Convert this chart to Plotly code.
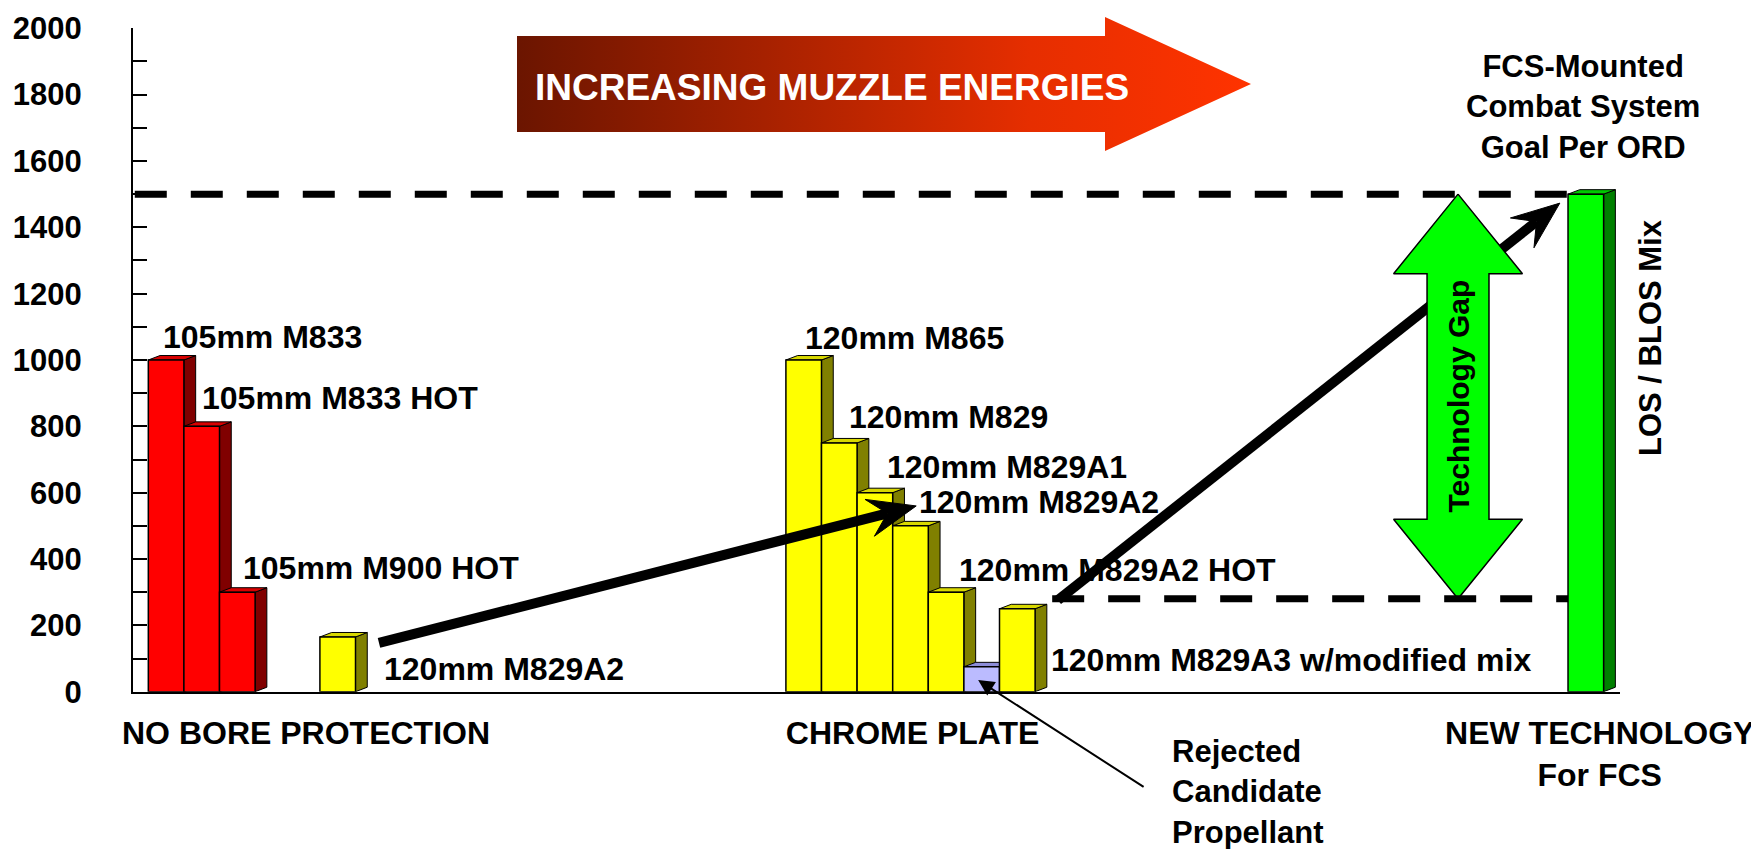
import math
import plotly.graph_objects as go

# ---------------- data ----------------
bar_names = ["105mm M833", "105mm M833 HOT", "105mm M900 HOT", "120mm M829A2",
             "120mm M865", "120mm M829", "120mm M829A1", "120mm M829A2",
             "120mm M829A2 HOT", "Rejected Candidate Propellant",
             "120mm M829A3 w/modified mix", "FCS-Mounted Combat System"]
bar_values = [1000, 800, 300, 165, 1000, 750, 600, 500, 300, 75, 250, 1500]
bar_kinds = ["105", "105", "105", "120", "120", "120", "120", "120", "120",
             "rejected", "120", "new"]

category_labels = ["NO BORE PROTECTION", "CHROME PLATE", "NEW TECHNOLOGY<br>For FCS"]
y_tick_values = [0, 200, 400, 600, 800, 1000, 1200, 1400, 1600, 1800, 2000]
y_tick_labels = [str(v) for v in y_tick_values]

goal_value = 1500          # FCS goal per ORD
current_best_line = 280    # lower dashed line (top of current technology)

bar_label_texts = ["105mm M833", "105mm M833 HOT", "105mm M900 HOT", "120mm M829A2",
                   "120mm M865", "120mm M829", "120mm M829A1", "120mm M829A2",
                   "120mm M829A2 HOT", "120mm M829A3 w/modified mix"]

# ---------------- layout / style constants ----------------
W, H = 1759, 849
OFF = 8                       # page body margin
FW, FH = W - OFF, H - OFF
FONT = "Liberation Sans, Arial, Helvetica, sans-serif"
BAR_X = [0.93, 1.93, 2.93, 5.75, 18.84, 19.84, 20.84, 21.84, 22.84, 23.84, 24.84, 40.81]
BAR_W = 1.0
DX, DY = 0.33, 13.5            # 3-D depth offset (x units, value units)
X_RANGE = [0, 41.77]
Y_RANGE = [0, 2000]
PLOT_L, PLOT_R, PLOT_T, PLOT_B = 133, 1620, 28.3, 691.7   # screen px
PXX = (PLOT_R - PLOT_L) / (X_RANGE[1] - X_RANGE[0])
PXY = (PLOT_B - PLOT_T) / (Y_RANGE[1] - Y_RANGE[0])
CATEGORY_X = [4.86, 21.9, 41.2]
LABEL_DX = -0.13
LABEL_POS = [(0.93, 1070), (2.02, 885), (3.17, 373), (7.13, 68),
             (18.96, 1066), (20.2, 828), (21.26, 677), (22.16, 572),
             (23.29, 367), (25.87, 95)]

COLORS = {
    "105": ("#FF0000", "#800000", "#D80000"),
    "120": ("#FFFF00", "#808000", "#D8D800"),
    "rejected": ("#BBBBFF", "#6666AA", "#8C8CD8"),
    "new": ("#00FF00", "#008000", "#00C800"),
}

fig = go.Figure()

# front faces of the bars
fig.add_trace(go.Bar(
    x=BAR_X, y=bar_values, width=BAR_W,
    marker=dict(color=[COLORS[k][0] for k in bar_kinds],
                line=dict(color="black", width=1.5)),
    hoverinfo="skip", showlegend=False,
))

# 3-D side and top faces (as shapes beneath the bar fronts)
shapes = []
sides, tops = [], []
for xc, v, k in zip(BAR_X, bar_values, bar_kinds):
    l, r = xc - BAR_W / 2, xc + BAR_W / 2
    sides.append(dict(type="path", xref="x", yref="y", layer="below",
                      path=f"M{r},0 L{r + DX},{DY} L{r + DX},{v + DY} L{r},{v} Z",
                      fillcolor=COLORS[k][1], line=dict(color="black", width=1)))
    tops.append(dict(type="path", xref="x", yref="y", layer="below",
                     path=f"M{l},{v} L{r},{v} L{r + DX},{v + DY} L{l + DX},{v + DY} Z",
                     fillcolor=COLORS[k][2], line=dict(color="black", width=1)))
shapes += sides + tops

# dashed goal / current lines
green_left = BAR_X[-1] - BAR_W / 2
last_chrome_right = BAR_X[10] + BAR_W / 2 + DX
shapes.append(dict(type="line", xref="x", yref="y", x0=0.05, x1=green_left + 0.3,
                   y0=goal_value, y1=goal_value, line=dict(color="black", width=7, dash="32px,24px")))
shapes.append(dict(type="line", xref="x", yref="y", x0=last_chrome_right + 0.15, x1=green_left,
                   y0=current_best_line, y1=current_best_line,
                   line=dict(color="black", width=7, dash="32px,24px")))


def thick_arrow(tail, tip, L=48, hw=19, notch=0.62, width=10):
    """Barbed arrow drawn as data-space traces (head geometry in screen px)."""
    tx, ty = tail[0] * PXX, tail[1] * PXY
    hx, hy = tip[0] * PXX, tip[1] * PXY
    d = math.hypot(hx - tx, hy - ty)
    ux, uy = (hx - tx) / d, (hy - ty) / d
    nx, ny = -uy, ux
    bx, by = hx - L * ux, hy - L * uy
    cx, cy = hx - notch * L * ux, hy - notch * L * uy
    pts = [(hx, hy), (bx + hw * nx, by + hw * ny), (cx, cy), (bx - hw * nx, by - hw * ny), (hx, hy)]
    fig.add_trace(go.Scatter(x=[tail[0], cx / PXX], y=[tail[1], cy / PXY], mode="lines",
                             line=dict(color="black", width=width),
                             hoverinfo="skip", showlegend=False))
    fig.add_trace(go.Scatter(x=[p[0] / PXX for p in pts], y=[p[1] / PXY for p in pts],
                             mode="lines", fill="toself", fillcolor="black",
                             line=dict(color="black", width=1),
                             hoverinfo="skip", showlegend=False))


# thick trend arrows (second one passes behind the technology-gap arrow)
thick_arrow((6.91, 147), (22.0, 560))
thick_arrow((25.98, 276), (40.08, 1473))

# Technology gap double arrow
gx, head_hw, shaft_hw, head_len = 37.22, 1.81, 0.87, 240
ga_x = [gx, gx + head_hw, gx + shaft_hw, gx + shaft_hw, gx + head_hw, gx,
        gx - head_hw, gx - shaft_hw, gx - shaft_hw, gx - head_hw, gx]
ga_y = [goal_value, goal_value - head_len, goal_value - head_len,
        current_best_line + head_len, current_best_line + head_len, current_best_line,
        current_best_line + head_len, current_best_line + head_len,
        goal_value - head_len, goal_value - head_len, goal_value]
fig.add_trace(go.Scatter(x=ga_x, y=ga_y, mode="lines", fill="toself",
                         fillcolor="#00FF00", line=dict(color="black", width=1.5),
                         hoverinfo="skip", showlegend=False))

# gradient "increasing muzzle energies" arrow (screen-pixel overlay axes)
arr_x = [517, 1105, 1105, 1251, 1105, 1105, 517, 517]
arr_y = [36, 36, 17, 84, 151, 132, 132, 36]
fig.add_trace(go.Scatter(x=arr_x, y=arr_y, xaxis="x2", yaxis="y2", mode="lines",
                         fill="toself", line=dict(width=0, color="rgba(0,0,0,0)"),
                         fillgradient=dict(type="horizontal",
                                           colorscale=[[0, "#6B1500"], [0.7, "#E62E00"], [1, "#FF3300"]]),
                         hoverinfo="skip", showlegend=False))

bold = dict(family=FONT, size=32, color="black", weight="bold")
annotations = []
for txt, (lx, ly) in zip(bar_label_texts, LABEL_POS):
    annotations.append(dict(x=lx + LABEL_DX, y=ly, xref="x", yref="y", text=txt, showarrow=False,
                            xanchor="left", yanchor="middle", font=bold))

annotations += [
    dict(x=1583, y=107, xref="x2", yref="y2", text="FCS-Mounted<br>Combat System<br>Goal Per ORD",
         showarrow=False, xanchor="center", yanchor="middle", font=dict(bold, size=31)),
    dict(x=1650, y=338, xref="x2", yref="y2", text="LOS / BLOS Mix", textangle=-90,
         showarrow=False, xanchor="center", yanchor="middle", font=dict(bold, size=31)),
    dict(x=gx, y=(goal_value + current_best_line) / 2, xref="x", yref="y",
         text="Technology Gap", textangle=-90, showarrow=False,
         xanchor="center", yanchor="middle", font=dict(bold, size=30)),
    dict(x=1170, y=792, xref="x2", yref="y2", text="Rejected<br>Candidate<br>Propellant",
         showarrow=False, xanchor="left", yanchor="middle", align="left", font=dict(bold, size=31)),
    dict(x=832, y=87, xref="x2", yref="y2", text="INCREASING MUZZLE ENERGIES",
         showarrow=False, xanchor="center", yanchor="middle",
         font=dict(family=FONT, size=37, color="white", weight="bold")),
    # thin pointer to rejected candidate
    dict(x=23.74, y=35, ax=28.43, ay=-290, xref="x", yref="y", axref="x", ayref="y",
         text="", showarrow=True, arrowhead=2, arrowsize=1.6, arrowwidth=2,
         arrowcolor="black", standoff=0, startstandoff=0),
]

fig.update_layout(
    width=FW, height=FH,
    margin=dict(l=0, r=0, t=0, b=0, autoexpand=False),
    paper_bgcolor="white", plot_bgcolor="rgba(0,0,0,0)",
    showlegend=False, hovermode=False,
    font=dict(family=FONT, color="black"),
    shapes=shapes, annotations=annotations,
    xaxis=dict(domain=[(PLOT_L - OFF) / FW, (PLOT_R - OFF) / FW], range=X_RANGE,
               showgrid=False, zeroline=False,
               showline=True, linecolor="black", linewidth=2, ticks="", automargin=False,
               tickmode="array", tickvals=CATEGORY_X, ticktext=category_labels,
               tickfont=bold, ticklabelstandoff=12),
    yaxis=dict(domain=[1 - (PLOT_B - OFF) / FH, 1 - (PLOT_T - OFF) / FH], range=Y_RANGE,
               showgrid=False, zeroline=False, showline=True, linecolor="black", linewidth=2,
               automargin=False,
               ticks="inside", ticklen=14, tickwidth=1.5, tickcolor="black",
               tickmode="array", tickvals=y_tick_values, ticktext=y_tick_labels,
               tickfont=dict(bold, size=31), ticklabelstandoff=43,
               minor=dict(dtick=100, ticks="inside", ticklen=14, tickwidth=1.5,
                          tickcolor="black", showgrid=False)),
    xaxis2=dict(domain=[0, 1], range=[OFF, OFF + FW], visible=False, anchor="y2", fixedrange=True),
    yaxis2=dict(domain=[0, 1], range=[OFF + FH, OFF], visible=False, anchor="x2", fixedrange=True),
)

fig.write_html("out.html")
